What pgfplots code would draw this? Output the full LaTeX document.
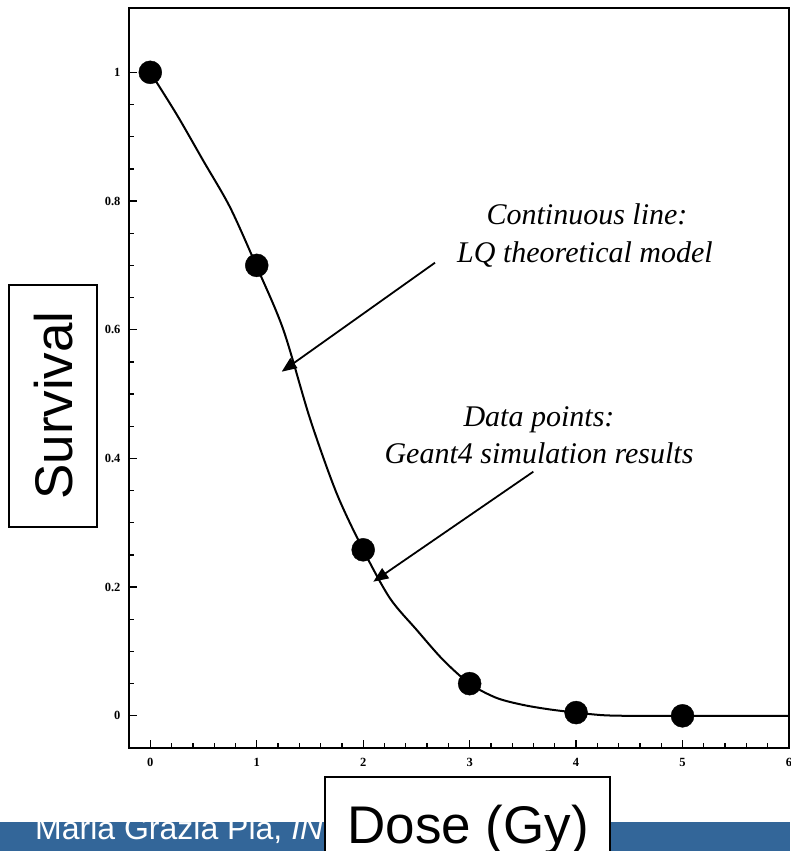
\documentclass[border=0pt]{standalone}
\usepackage{pgfplots}
\pgfplotsset{compat=1.18}
\usepackage{fontspec}
\setmainfont{Liberation Serif}
\newfontfamily\arial{Liberation Sans}
\usetikzlibrary{arrows.meta}
\definecolor{banner}{HTML}{336699}
\begin{document}
\begin{tikzpicture}
\useasboundingbox (0pt,0pt) rectangle (790pt,851pt);
% banner
\fill[banner] (0pt,0pt) rectangle (790pt,29pt);
\node[anchor=base west, inner sep=0pt, text=white, font=\arial\fontsize{32}{32}\selectfont] at (35pt,12pt) {Maria Grazia Pia, \textit{INFN}};
\begin{axis}[
  at={(129pt,103pt)}, anchor=south west,
  scale only axis, width=660pt, height=740pt,
  xmin=-0.2, xmax=6, ymin=-0.05, ymax=1.1,
  xtick={0,1,2,3,4,5,6}, ytick={0,0.2,0.4,0.6,0.8,1},
  minor x tick num=4, minor y tick num=3,
  xtick pos=bottom, ytick pos=left,
  tick align=inside,
  major tick length=8pt, minor tick length=5pt,
  tick style={black, line width=1.3pt},
  axis line style={line width=2pt},
  /pgf/number format/assume math mode=true,
  ticklabel style={font=\bfseries\fontsize{12.5}{12.5}\selectfont},
  xticklabel style={yshift=-7pt},
  yticklabel style={xshift=-5pt},
  clip=false,
]
\addplot[black, line width=2pt, smooth] coordinates {
(0,1.0) (0.25,0.934) (0.5,0.862) (0.75,0.790) (1.0,0.698)
(1.25,0.600) (1.5,0.462) (1.75,0.346) (2.0,0.258)
(2.25,0.183) (2.5,0.134) (2.75,0.087) (3.0,0.050) (3.25,0.028)
(3.5,0.017) (3.75,0.010) (4.0,0.005) (4.25,0.001) (4.5,0) (5,0) (6,0)
};
\addplot[only marks, mark=*, mark size=11.5pt, black] coordinates {
(0,1.0) (1,0.70) (2,0.258) (3,0.05) (4,0.005) (5,0.0)
};
\end{axis}
% Survival box
\draw[line width=2pt, fill=white] (9pt,324pt) rectangle (97pt,566pt);
\node[rotate=90, anchor=base, inner sep=0pt, font=\arial\fontsize{53}{53}\selectfont] at (72pt,445.5pt) {Survival};
% Dose box
\draw[line width=2pt, fill=white] (325pt,-5pt) rectangle (610pt,74pt);
\node[anchor=base, inner sep=0pt, font=\arial\fontsize{53}{53}\selectfont] at (468pt,8pt) {Dose (Gy)};
% annotations
\node[anchor=base, inner sep=0pt, font=\itshape\fontsize{30}{30}\selectfont] at (587pt,626pt) {Continuous line:};
\node[anchor=base, inner sep=0pt, font=\itshape\fontsize{30}{30}\selectfont] at (585pt,588pt) {LQ theoretical model};
\node[anchor=base, inner sep=0pt, font=\itshape\fontsize{30}{30}\selectfont] at (539pt,424.3pt) {Data points:};
\node[anchor=base, inner sep=0pt, font=\itshape\fontsize{30}{30}\selectfont] at (539pt,387.7pt) {Geant4 simulation results};
\draw[line width=1.8pt, -{Triangle[length=15pt,width=12pt]}] (435pt,588.3pt) -- (281.7pt,479.3pt);
\draw[line width=1.8pt, -{Triangle[length=15pt,width=12pt]}] (533.3pt,379.3pt) -- (373.3pt,269.3pt);
\end{tikzpicture}
\end{document}
